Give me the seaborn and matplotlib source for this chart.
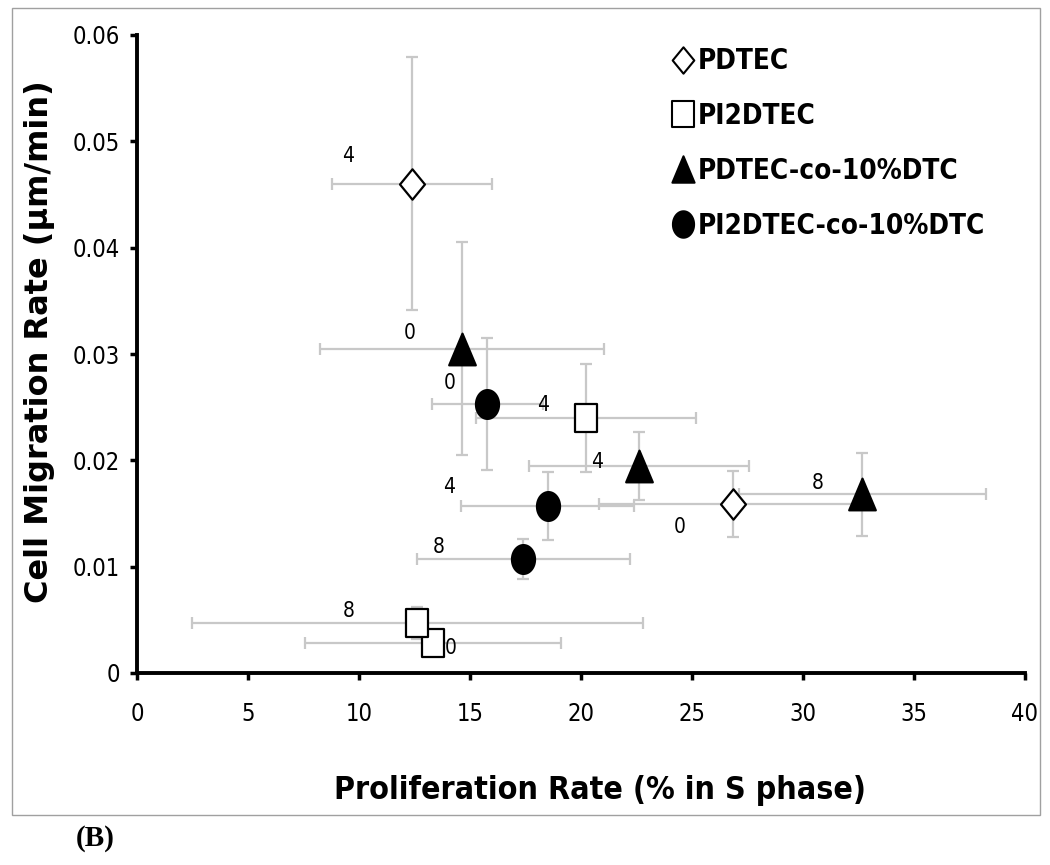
import numpy as np
import pandas as pd
import seaborn as sns
import matplotlib
matplotlib.use("Agg")
from matplotlib import pyplot as plt
from matplotlib.path import Path
from matplotlib.lines import Line2D
from matplotlib.patches import Rectangle

# data
groups = ["PDTEC", "PI2DTEC", "PDTEC-co-10%DTC", "PI2DTEC-co-10%DTC"]
group = ["PDTEC", "PDTEC",
         "PI2DTEC", "PI2DTEC", "PI2DTEC",
         "PDTEC-co-10%DTC", "PDTEC-co-10%DTC", "PDTEC-co-10%DTC",
         "PI2DTEC-co-10%DTC", "PI2DTEC-co-10%DTC", "PI2DTEC-co-10%DTC"]
day = ["0", "4", "0", "4", "8", "0", "4", "8", "0", "4", "8"]
prolif = [26.83, 12.37, 13.35, 20.23, 12.63, 14.63, 22.61, 32.67, 15.78, 18.50, 17.40]
prolif_err = [6.0, 3.6, 5.76, 4.97, 10.17, 6.4, 4.94, 5.56, 2.5, 3.9, 4.8]
migr = [0.0159, 0.0460, 0.0028, 0.0240, 0.0047, 0.0305, 0.0195, 0.0168, 0.0253, 0.0157, 0.0107]
migr_err = [0.0031, 0.0119, 0.0005, 0.0051, 0.0015, 0.0100, 0.0032, 0.0039, 0.0062, 0.0032, 0.0019]
x_ticks = [0, 5, 10, 15, 20, 25, 30, 35, 40]
y_ticks = [0, 0.01, 0.02, 0.03, 0.04, 0.05, 0.06]
y_tick_labels = ["0", "0.01", "0.02", "0.03", "0.04", "0.05", "0.06"]

df = pd.DataFrame({"group": group, "day": day, "x": prolif, "xerr": prolif_err,
                   "y": migr, "yerr": migr_err})

# label offsets (pixels) from each marker, same order as the rows
label_offsets = [(-53, -23), (-64, 28), (17, -5), (-43, 13), (-69, 12),
                 (-52, 16), (-42, 4), (-45, 11), (-38, 21), (-99, 19), (-85, 12)]

# markers look squeezed horizontally in the original
sq = 0.82
m_diamond = Path([(0, 1), (sq, 0), (0, -1), (-sq, 0), (0, 1)], closed=True)
m_square = Path([(-sq, -1), (sq, -1), (sq, 1), (-sq, 1), (-sq, -1)], closed=True)
m_tri = Path([(-0.84, -1), (0.84, -1), (0, 1), (-0.84, -1)], closed=True)
t = np.linspace(0, 2 * np.pi, 60)
m_circle = Path(np.column_stack([0.8 * np.cos(t), np.sin(t)]), closed=True)

styles = {
    "PDTEC": dict(marker=m_diamond, s=480, fc="white"),
    "PI2DTEC": dict(marker=m_square, s=400, fc="white"),
    "PDTEC-co-10%DTC": dict(marker=m_tri, s=520, fc="black"),
    "PI2DTEC-co-10%DTC": dict(marker=m_circle, s=430, fc="black"),
}

sns.set_style("white")
plt.rcParams["font.family"] = ["DejaVu Sans"]
plt.rcParams["font.stretch"] = "condensed"
for k in ["text.color", "axes.labelcolor", "xtick.color", "ytick.color"]:
    plt.rcParams[k] = "black"

fig = plt.figure(figsize=(10.5, 8.65), dpi=100)
ax = fig.add_axes([137 / 1050, 1 - 673 / 865, 888 / 1050, 638 / 865])

ax.errorbar(df["x"], df["y"], xerr=df["xerr"], yerr=df["yerr"], fmt="none",
            ecolor="#c8c8c8", elinewidth=1.6, capsize=4, capthick=1.6, zorder=1)

for g in groups:
    sub = df[df["group"] == g]
    st = styles[g]
    sns.scatterplot(data=sub, x="x", y="y", marker=st["marker"], s=st["s"],
                    color=st["fc"], edgecolor="black", linewidth=1.6, ax=ax,
                    zorder=3, legend=False)

for (i, row), off in zip(df.iterrows(), label_offsets):
    ax.annotate(row["day"], (row["x"], row["y"]), xytext=off,
                textcoords="offset pixels", ha="center", va="center",
                fontsize=15, zorder=2)

ax.set_xlim(0, 40)
ax.set_ylim(0, 0.06)
ax.set_xticks(x_ticks)
ax.set_xticklabels([str(v) for v in x_ticks])
ax.set_yticks(y_ticks)
ax.set_yticklabels(y_tick_labels)
ax.tick_params(axis="both", direction="out", length=5, width=2.5,
               labelsize=17, bottom=True, left=True)
ax.tick_params(axis="x", pad=16)
ax.tick_params(axis="y", pad=7)
for side in ["top", "right"]:
    ax.spines[side].set_visible(False)
for side in ["left", "bottom"]:
    ax.spines[side].set_linewidth(2.8)
    ax.spines[side].set_color("black")

ax.set_xlabel("Proliferation Rate (% in S phase)", fontsize=23, fontweight="bold")
ax.xaxis.set_label_coords((600 - 137) / 888, -(790 - 673) / 638)
ax.set_ylabel("Cell Migration Rate (\u03bcm/min)", fontsize=23, fontweight="bold",
              fontstretch="normal")
ax.yaxis.set_label_coords(-(137 - 40) / 888, (673 - 342) / 638)
ax.xaxis.label.set_va("center")
ax.yaxis.label.set_va("center")

handles = [Line2D([], [], ls="none", marker=styles[g]["marker"], markersize=19,
                  mfc=styles[g]["fc"], mec="black", mew=1.5) for g in groups]
ax.legend(handles, groups, loc="upper left", bbox_to_anchor=((648 - 137) / 888, 1.02),
          frameon=False, handlelength=0.7, handletextpad=0.2, labelspacing=0.97,
          prop={"weight": "bold", "size": 20})

fig.add_artist(Rectangle((12 / 1050, 1 - 815 / 865), 1028 / 1050, 807 / 865,
                         transform=fig.transFigure, fill=False, ec="#a0a0a0", lw=1))
fig.text(95 / 1050, 1 - 838 / 865, "(B)", ha="center", va="center",
         family="Liberation Serif", fontweight="bold", fontsize=21)

fig.savefig("out.png", dpi=100)
